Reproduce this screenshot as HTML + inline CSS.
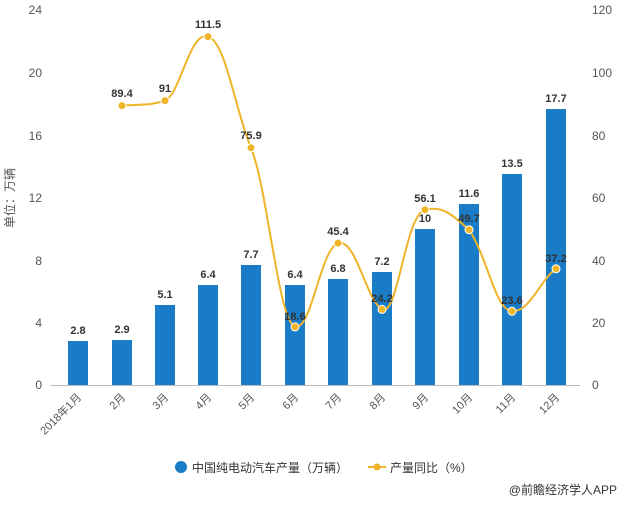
<!DOCTYPE html>
<html><head><meta charset="utf-8"><style>body{margin:0;background:#fff}</style></head><body>
<svg width="623" height="502" xmlns="http://www.w3.org/2000/svg" font-family="Liberation Sans, Noto Sans CJK SC, sans-serif">
<g font-size="12" fill="#555">
<text x="42" y="389" text-anchor="end">0</text>
<text x="42" y="327" text-anchor="end">4</text>
<text x="42" y="265" text-anchor="end">8</text>
<text x="42" y="202" text-anchor="end">12</text>
<text x="42" y="140" text-anchor="end">16</text>
<text x="42" y="77" text-anchor="end">20</text>
<text x="42" y="14" text-anchor="end">24</text>
<text x="592" y="389">0</text>
<text x="592" y="327">20</text>
<text x="592" y="265">40</text>
<text x="592" y="202">60</text>
<text x="592" y="140">80</text>
<text x="592" y="77">100</text>
<text x="592" y="14">120</text>
<text transform="translate(14,198) rotate(-90)" text-anchor="middle">单位：万辆</text>
</g>
<line x1="50" y1="385.5" x2="580" y2="385.5" stroke="#bbb"/>
<g fill="#1a7bc6">
<rect x="68" y="341" width="20" height="44"/>
<rect x="112" y="340" width="20" height="45"/>
<rect x="155" y="305" width="20" height="80"/>
<rect x="198" y="285" width="20" height="100"/>
<rect x="241" y="265" width="20" height="120"/>
<rect x="285" y="285" width="20" height="100"/>
<rect x="328" y="279" width="20" height="106"/>
<rect x="372" y="272" width="20" height="113"/>
<rect x="415" y="229" width="20" height="156"/>
<rect x="459" y="204" width="20" height="181"/>
<rect x="502" y="174" width="20" height="211"/>
<rect x="546" y="109" width="20" height="276"/>
</g>
<g font-size="11" font-weight="bold" fill="#333" text-anchor="middle">
<text x="78" y="334">2.8</text><text x="122" y="333">2.9</text><text x="165" y="298">5.1</text>
<text x="208" y="278">6.4</text><text x="251" y="258">7.7</text><text x="295" y="278">6.4</text>
<text x="338" y="272">6.8</text><text x="382" y="265">7.2</text><text x="425" y="222">10</text>
<text x="469" y="197">11.6</text><text x="512" y="167">13.5</text><text x="556" y="102">17.7</text>
</g>
<path d="M122,105.6 C140,104 150,106 165,100.6 C180,95 190,30 208,36.6 C226,42 235,110 251,147.8 C268,190 278,320 295,326.9 C312,330 320,250 338,243.1 C356,238 366,300 382,309.4 C398,318 405,215 425,209.7 C445,205 455,218 469,229.7 C488,258 495,310 512,311.3 C530,312 540,280 556,268.8" fill="none" stroke="#f0b429" stroke-width="2"/>
<g fill="#f0b429" stroke="#fff" stroke-width="1">
<circle cx="122" cy="105.6" r="4"/><circle cx="165" cy="100.6" r="4"/><circle cx="208" cy="36.6" r="4"/>
<circle cx="251" cy="147.8" r="4"/><circle cx="295" cy="326.9" r="4"/><circle cx="338" cy="243.1" r="4"/>
<circle cx="382" cy="309.4" r="4"/><circle cx="425" cy="209.7" r="4"/><circle cx="469" cy="229.7" r="4"/>
<circle cx="512" cy="311.3" r="4"/><circle cx="556" cy="268.8" r="4"/>
</g>
<g font-size="11" font-weight="bold" fill="#333" text-anchor="middle">
<text x="122" y="97">89.4</text><text x="165" y="92">91</text><text x="208" y="28">111.5</text>
<text x="251" y="139">75.9</text><text x="295" y="320">18.6</text><text x="338" y="235">45.4</text>
<text x="382" y="302">24.2</text><text x="425" y="202">56.1</text><text x="469" y="222">49.7</text>
<text x="512" y="304">23.6</text><text x="556" y="262">37.2</text>
</g>
<g font-size="11" fill="#555" text-anchor="end">
<text transform="translate(82,398) rotate(-45)">2018年1月</text>
<text transform="translate(126,398) rotate(-45)">2月</text>
<text transform="translate(169,398) rotate(-45)">3月</text>
<text transform="translate(212,398) rotate(-45)">4月</text>
<text transform="translate(255,398) rotate(-45)">5月</text>
<text transform="translate(299,398) rotate(-45)">6月</text>
<text transform="translate(342,398) rotate(-45)">7月</text>
<text transform="translate(386,398) rotate(-45)">8月</text>
<text transform="translate(429,398) rotate(-45)">9月</text>
<text transform="translate(473,398) rotate(-45)">10月</text>
<text transform="translate(516,398) rotate(-45)">11月</text>
<text transform="translate(560,398) rotate(-45)">12月</text>
</g>
<circle cx="181" cy="467" r="6" fill="#1a7bc6"/>
<text x="192" y="472" font-size="12" fill="#333">中国纯电动汽车产量（万辆）</text>
<line x1="368" y1="467" x2="386" y2="467" stroke="#f0b429" stroke-width="2"/>
<circle cx="377" cy="467" r="3.5" fill="#f0b429"/>
<text x="390" y="472" font-size="12" fill="#333">产量同比（%）</text>
<text x="617" y="494" font-size="12" fill="#333" text-anchor="end">@前瞻经济学人APP</text>
</svg>
</body></html>
